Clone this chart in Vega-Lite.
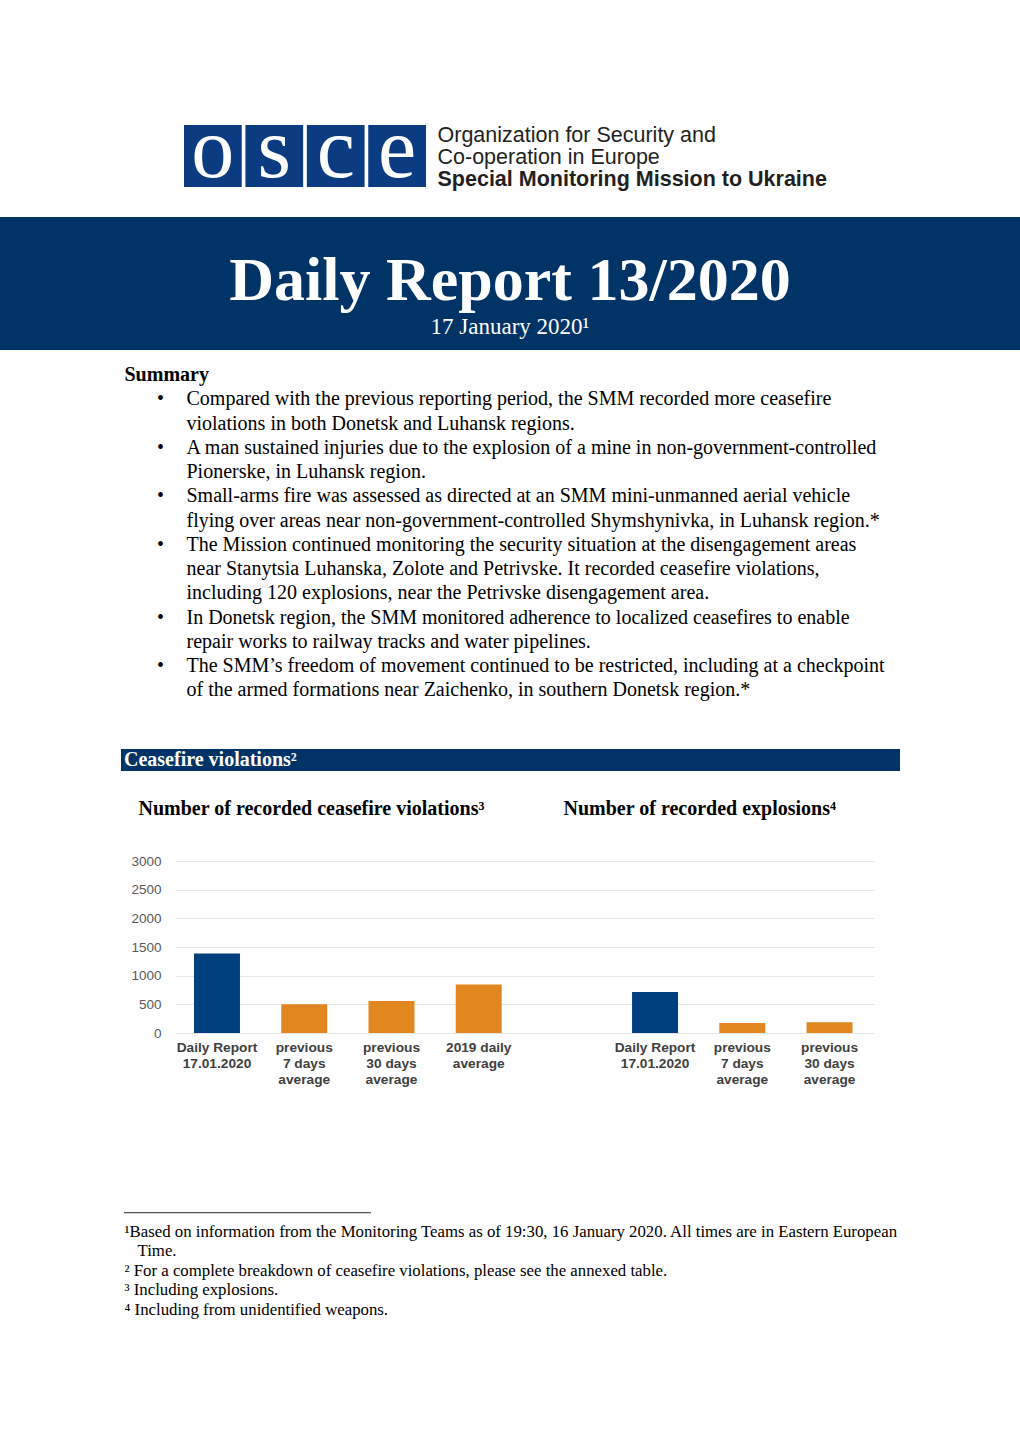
{
  "$schema": "https://vega.github.io/schema/vega-lite/v6.json",
  "background": "white",
  "padding": 0,
  "spacing": 0,
  "bounds": "flush",
  "config": {"view": {"stroke": null}, "concat": {"spacing": 0}},
  "datasets": {
    "org": [
      {"i": 1, "line": "Organization for Security and", "bold": false},
      {"i": 2, "line": "Co-operation in Europe", "bold": false},
      {"i": 3, "line": "Special Monitoring Mission to Ukraine", "bold": true}
    ],
    "summary": [
      {"i": 0, "heading": true, "bullet": false, "text": "Summary"},
      {"i": 1, "heading": false, "bullet": true, "text": "Compared with the previous reporting period, the SMM recorded more ceasefire"},
      {"i": 2, "heading": false, "bullet": false, "text": "violations in both Donetsk and Luhansk regions."},
      {"i": 3, "heading": false, "bullet": true, "text": "A man sustained injuries due to the explosion of a mine in non-government-controlled"},
      {"i": 4, "heading": false, "bullet": false, "text": "Pionerske, in Luhansk region."},
      {"i": 5, "heading": false, "bullet": true, "text": "Small-arms fire was assessed as directed at an SMM mini-unmanned aerial vehicle"},
      {"i": 6, "heading": false, "bullet": false, "text": "flying over areas near non-government-controlled Shymshynivka, in Luhansk region.*"},
      {"i": 7, "heading": false, "bullet": true, "text": "The Mission continued monitoring the security situation at the disengagement areas"},
      {"i": 8, "heading": false, "bullet": false, "text": "near Stanytsia Luhanska, Zolote and Petrivske. It recorded ceasefire violations,"},
      {"i": 9, "heading": false, "bullet": false, "text": "including 120 explosions, near the Petrivske disengagement area."},
      {"i": 10, "heading": false, "bullet": true, "text": "In Donetsk region, the SMM monitored adherence to localized ceasefires to enable"},
      {"i": 11, "heading": false, "bullet": false, "text": "repair works to railway tracks and water pipelines."},
      {"i": 12, "heading": false, "bullet": true, "text": "The SMM’s freedom of movement continued to be restricted, including at a checkpoint"},
      {"i": 13, "heading": false, "bullet": false, "text": "of the armed formations near Zaichenko, in southern Donetsk region.*"}
    ],
    "notes": [
      {"i": 1, "a": "¹Based on information from the Monitoring Teams as of 19:30, 16 January 2020. All times are in Eastern European", "b": ""},
      {"i": 2, "a": "", "b": "Time."},
      {"i": 3, "a": "² For a complete breakdown of ceasefire violations, please see the annexed table.", "b": ""},
      {"i": 4, "a": "³ Including explosions.", "b": ""},
      {"i": 5, "a": "⁴ Including from unidentified weapons.", "b": ""}
    ],
    "cfv": [
      {"chart": "violations", "category": "Daily Report\n17.01.2020", "kind": "daily", "value": 1385},
      {"chart": "violations", "category": "previous\n7 days\naverage", "kind": "average", "value": 500},
      {"chart": "violations", "category": "previous\n30 days\naverage", "kind": "average", "value": 558},
      {"chart": "violations", "category": "2019 daily\naverage", "kind": "average", "value": 844},
      {"chart": "explosions", "category": "Daily Report\n17.01.2020", "kind": "daily", "value": 715},
      {"chart": "explosions", "category": "previous\n7 days\naverage", "kind": "average", "value": 174},
      {"chart": "explosions", "category": "previous\n30 days\naverage", "kind": "average", "value": 186}
    ]
  },
  "vconcat": [
    {"width": 1020, "height": 125, "data": {"values": [{}]}, "mark": "text", "encoding": {}},
    {
      "spacing": 0,
      "bounds": "flush",
      "hconcat": [
        {"width": 184, "height": 62, "data": {"values": [{}]}, "mark": "text", "encoding": {}},
        {
          "width": 242,
          "height": 62,
          "data": {"values": [{"letter": "o"}, {"letter": "s"}, {"letter": "c"}, {"letter": "e"}]},
          "encoding": {
            "x": {"field": "letter", "type": "nominal", "sort": null, "axis": null,
                  "scale": {"type": "band", "paddingInner": 0.06, "paddingOuter": 0}}
          },
          "layer": [
            {"mark": {"type": "bar", "color": "#0b3b80"}},
            {"mark": {"type": "text", "font": "Liberation Serif", "fontSize": 86, "color": "white", "baseline": "alphabetic", "dy": 21},
             "encoding": {"text": {"field": "letter"}}}
          ]
        },
        {"width": 11, "height": 62, "data": {"values": [{}]}, "mark": "text", "encoding": {}},
        {
          "width": 1,
          "height": 66,
          "data": {"name": "org"},
          "encoding": {"y": {"field": "i", "type": "ordinal", "axis": null}},
          "layer": [
            {"mark": {"type": "text", "font": "Liberation Sans", "fontSize": 21.5, "align": "left", "baseline": "middle", "color": "#231f20"},
             "encoding": {"text": {"condition": {"test": "!datum.bold", "field": "line"}, "value": ""}}},
            {"mark": {"type": "text", "font": "Liberation Sans", "fontSize": 21.5, "fontWeight": "bold", "align": "left", "baseline": "middle", "color": "#231f20"},
             "encoding": {"text": {"condition": {"test": "datum.bold", "field": "line"}, "value": ""}}}
          ]
        }
      ]
    },
    {"width": 1020, "height": 92, "data": {"values": [{}]}, "mark": "text", "encoding": {}},
    {
      "width": 1020,
      "height": 133,
      "view": {"fill": "#003366"},
      "data": {"values": [{"title": "Daily Report 13/2020", "date": "17 January 2020¹"}]},
      "layer": [
        {"mark": {"type": "text", "font": "Liberation Serif", "fontWeight": "bold", "fontSize": 62, "color": "white", "baseline": "alphabetic", "dy": 16},
         "encoding": {"text": {"field": "title"}}},
        {"mark": {"type": "text", "font": "Liberation Serif", "fontSize": 23, "color": "white", "baseline": "alphabetic", "dy": 50},
         "encoding": {"text": {"field": "date"}}}
      ]
    },
    {"width": 1020, "height": 19, "data": {"values": [{}]}, "mark": "text", "encoding": {}},
    {
      "spacing": 0,
      "bounds": "flush",
      "hconcat": [
        {"width": 124, "height": 339.5, "data": {"values": [{}]}, "mark": "text", "encoding": {}},
        {"width": 1, "height": 339.5, "data": {"name": "summary"},
         "mark": {"type": "text", "font": "Liberation Serif", "fontSize": 20, "fontWeight": "bold", "align": "left", "baseline": "alphabetic", "color": "black"},
         "encoding": {"y": {"field": "i", "type": "ordinal", "axis": null},
                      "text": {"condition": {"test": "datum.heading", "field": "text"}, "value": ""}}},
        {"width": 35, "height": 339.5, "data": {"values": [{}]}, "mark": "text", "encoding": {}},
        {"width": 1, "height": 339.5, "data": {"name": "summary"},
         "mark": {"type": "text", "font": "Liberation Serif", "fontSize": 20, "align": "center", "baseline": "alphabetic", "color": "black"},
         "encoding": {"y": {"field": "i", "type": "ordinal", "axis": null},
                      "text": {"condition": {"test": "datum.bullet", "value": "•"}, "value": ""}}},
        {"width": 25, "height": 339.5, "data": {"values": [{}]}, "mark": "text", "encoding": {}},
        {"width": 1, "height": 339.5, "data": {"name": "summary"},
         "mark": {"type": "text", "font": "Liberation Serif", "fontSize": 20, "align": "left", "baseline": "alphabetic", "color": "black"},
         "encoding": {"y": {"field": "i", "type": "ordinal", "axis": null},
                      "text": {"condition": {"test": "!datum.heading", "field": "text"}, "value": ""}}}
      ]
    },
    {"width": 1020, "height": 380, "data": {"values": [{}]}, "mark": "text", "encoding": {}},
    {
      "spacing": 0,
      "bounds": "flush",
      "hconcat": [
        {"width": 121, "height": 22, "data": {"values": [{}]}, "mark": "text", "encoding": {}},
        {"width": 779, "height": 22, "view": {"fill": "#003366"},
         "data": {"values": [{"label": "Ceasefire violations²"}]},
         "mark": {"type": "text", "font": "Liberation Serif", "fontSize": 20, "fontWeight": "bold", "color": "white", "align": "left", "baseline": "middle", "dx": 3},
         "encoding": {"x": {"field": "label", "type": "nominal", "axis": null, "scale": {"type": "point", "padding": 0, "align": 0}},
                      "text": {"field": "label"}}}
      ]
    },
    {"width": 1020, "height": 56, "data": {"values": [{}]}, "mark": "text", "encoding": {}},
    {
      "spacing": 0,
      "bounds": "flush",
      "hconcat": [
        {"width": 138, "height": 20, "data": {"values": [{}]}, "mark": "text", "encoding": {}},
        {"width": 1, "height": 20, "data": {"values": [{"t": "Number of recorded ceasefire violations³"}]},
         "mark": {"type": "text", "font": "Liberation Serif", "fontSize": 20, "fontWeight": "bold", "color": "black", "align": "left", "baseline": "alphabetic"},
         "encoding": {"text": {"field": "t"}}},
        {"width": 424, "height": 20, "data": {"values": [{}]}, "mark": "text", "encoding": {}},
        {"width": 1, "height": 20, "data": {"values": [{"t": "Number of recorded explosions⁴"}]},
         "mark": {"type": "text", "font": "Liberation Serif", "fontSize": 20, "fontWeight": "bold", "color": "black", "align": "left", "baseline": "alphabetic"},
         "encoding": {"text": {"field": "t"}}}
      ]
    },
    {"width": 1020, "height": 55.7, "data": {"values": [{}]}, "mark": "text", "encoding": {}},
    {
      "spacing": 0,
      "bounds": "flush",
      "hconcat": [
        {"width": 176, "height": 172, "data": {"values": [{}]}, "mark": "text", "encoding": {}},
        {
          "width": 349,
          "height": 172,
          "data": {"name": "cfv"},
          "transform": [{"filter": "datum.chart == 'violations'"}],
          "mark": {"type": "bar"},
          "encoding": {
            "x": {"field": "category", "type": "nominal", "sort": null,
                  "scale": {"paddingInner": 0.473, "paddingOuter": 0.2365, "align": 0.436},
                  "axis": {"title": null, "labelAngle": 0, "domain": false, "ticks": false,
                           "labelExpr": "split(datum.label, '\\n')", "labelFont": "Liberation Sans",
                           "labelFontSize": 13.7, "labelFontWeight": "bold", "labelColor": "#404040",
                           "labelLineHeight": 16, "labelPadding": 7, "labelLimit": 300, "labelOverlap": false}},
            "y": {"field": "value", "type": "quantitative", "scale": {"domain": [0, 3000]},
                  "axis": {"title": null, "values": [0, 500, 1000, 1500, 2000, 2500, 3000], "format": "d", "grid": true,
                           "gridColor": "#e6e6e6", "domain": false, "ticks": false, "labelPadding": 15,
                           "labelFont": "Liberation Sans", "labelFontSize": 13.5, "labelColor": "#595959"}},
            "color": {"field": "kind", "type": "nominal",
                      "scale": {"domain": ["daily", "average"], "range": ["#003f7d", "#e2861f"]}, "legend": null}
          }
        },
        {
          "width": 349,
          "height": 172,
          "data": {"name": "cfv"},
          "transform": [{"filter": "datum.chart == 'explosions'"}],
          "mark": {"type": "bar"},
          "encoding": {
            "x": {"field": "category", "type": "nominal", "sort": null,
                  "scale": {"paddingInner": 0.473, "paddingOuter": 0.7365, "align": 0.833},
                  "axis": {"title": null, "labelAngle": 0, "domain": false, "ticks": false,
                           "labelExpr": "split(datum.label, '\\n')", "labelFont": "Liberation Sans",
                           "labelFontSize": 13.7, "labelFontWeight": "bold", "labelColor": "#404040",
                           "labelLineHeight": 16, "labelPadding": 7, "labelLimit": 300, "labelOverlap": false}},
            "y": {"field": "value", "type": "quantitative", "scale": {"domain": [0, 3000]},
                  "axis": {"title": null, "values": [0, 500, 1000, 1500, 2000, 2500, 3000], "grid": true,
                           "gridColor": "#e6e6e6", "domain": false, "ticks": false, "labels": false}},
            "color": {"field": "kind", "type": "nominal",
                      "scale": {"domain": ["daily", "average"], "range": ["#003f7d", "#e2861f"]}, "legend": null}
          }
        }
      ]
    },
    {"width": 1020, "height": 350.8, "data": {"values": [{}]}, "mark": "text", "encoding": {}},
    {
      "spacing": 0,
      "bounds": "flush",
      "hconcat": [
        {"width": 124, "height": 1.2, "data": {"values": [{}]}, "mark": "text", "encoding": {}},
        {"width": 247, "height": 1.2, "data": {"values": [{}]}, "mark": {"type": "bar", "color": "#555555"}, "encoding": {}}
      ]
    },
    {"width": 1020, "height": 14.75, "data": {"values": [{}]}, "mark": "text", "encoding": {}},
    {
      "spacing": 0,
      "bounds": "flush",
      "hconcat": [
        {"width": 124, "height": 97.5, "data": {"values": [{}]}, "mark": "text", "encoding": {}},
        {"width": 1, "height": 97.5, "data": {"name": "notes"},
         "mark": {"type": "text", "font": "Liberation Serif", "fontSize": 16.8, "align": "left", "baseline": "alphabetic", "color": "black"},
         "encoding": {"y": {"field": "i", "type": "ordinal", "axis": null}, "text": {"field": "a"}}},
        {"width": 12, "height": 97.5, "data": {"values": [{}]}, "mark": "text", "encoding": {}},
        {"width": 1, "height": 97.5, "data": {"name": "notes"},
         "mark": {"type": "text", "font": "Liberation Serif", "fontSize": 16.8, "align": "left", "baseline": "alphabetic", "color": "black"},
         "encoding": {"y": {"field": "i", "type": "ordinal", "axis": null}, "text": {"field": "b"}}}
      ]
    },
    {"width": 1020, "height": 215.75, "data": {"values": [{}]}, "mark": "text", "encoding": {}}
  ]
}
